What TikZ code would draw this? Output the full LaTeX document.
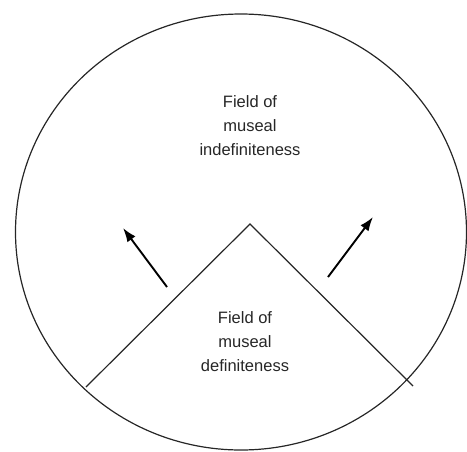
\documentclass[tikz,border=0pt]{standalone}
\usepackage{fontspec}
\setmainfont{Liberation Sans}
\usetikzlibrary{arrows.meta}
\tikzset{
  lbl/.style={align=center, font=\fontsize{16.5}{24}\selectfont, inner sep=0pt, text=black!85},
  outline/.style={line width=1.2pt, black!85},
  push/.style={line width=1.9pt, -{Latex[length=14pt,width=10pt]}}
}
\begin{document}
\begin{tikzpicture}[x=1pt,y=-1pt]
\useasboundingbox (0,0) rectangle (467,451);
\draw[outline] (241,232) ellipse [x radius=225.5, y radius=218];
\coordinate (apex) at (250,224);
\coordinate (lend) at (86,387);
\coordinate (rend) at (413,386);
\draw[outline] (lend) -- (apex) -- (rend);
\coordinate (la0) at (167,287);
\coordinate (la1) at (123,228);
\coordinate (ra0) at (328,277);
\coordinate (ra1) at (373,217);
\draw[push] (la0) -- (la1);
\draw[push] (ra0) -- (ra1);
\node[lbl] (indef) at (250,126) {Field of\\museal\\indefiniteness};
\node[lbl] (def) at (245,342) {Field of\\museal\\definiteness};
\end{tikzpicture}
\end{document}
